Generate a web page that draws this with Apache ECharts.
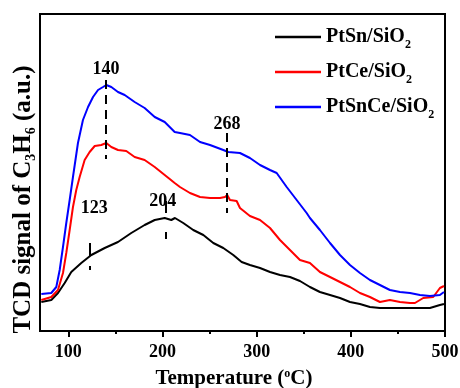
<!DOCTYPE html>
<html>
<head>
<meta charset="utf-8">
<script src="https://cdn.jsdelivr.net/npm/echarts@6/dist/echarts.min.js"></script>
<style>
html,body{margin:0;padding:0;background:#fff}
#chart{width:460px;height:388px}
</style>
</head>
<body>
<div id="chart"></div>
<script>
// TPD curves (temperature in degC, signal in arbitrary units)
const seriesNames = ['PtSn/SiO2', 'PtCe/SiO2', 'PtSnCe/SiO2'];
const colors = ['#000000', '#ff0000', '#0000ff'];

const ptsnT = [71.4, 82, 89.1, 96.2, 103.2, 113.8, 124.5, 138.7, 152.8, 166.9, 181.1, 191.8, 202.4, 209.4, 213.3, 222.1, 232.7, 243.4, 254, 264.6, 275.2, 284.1, 292.9, 303.6, 314.2, 324.8, 335.4, 346, 356.6, 367.2, 377.9, 388.5, 399.1, 409.7, 420.3, 430.9, 441.5, 452.2, 462.8, 473.4, 484, 494.6, 498.9];
const ptsnY = [29, 31, 38, 48, 59, 68, 76, 83, 89, 98, 106, 111, 113, 111, 113, 108, 101, 96, 88, 83, 76, 69, 66, 63, 59, 56, 54, 50, 44, 39, 36, 33, 29, 27, 24, 23, 23, 23, 23, 23, 23, 26, 27];

const ptceT = [71.4, 82, 89.1, 94.4, 97.9, 101.5, 105, 108.5, 112.1, 117.4, 122.7, 128.1, 135.1, 140.4, 145.7, 152.8, 161.6, 170.5, 181.1, 191.8, 202.4, 213, 218.6, 229.2, 239.9, 250.5, 261.1, 266.4, 268.8, 271.7, 278.8, 282.3, 292.9, 303.6, 314.2, 324.8, 335.4, 346, 356.6, 367.2, 377.9, 388.5, 399.1, 409.7, 420.3, 430.9, 441.5, 452.2, 462.8, 468.1, 476.9, 487.5, 494.6, 498.9];
const ptceY = [31, 34, 41, 58, 78, 101, 124, 141, 154, 171, 179, 185, 186, 188, 184, 181, 180, 174, 171, 164, 156, 148, 144, 138, 134, 133, 133, 134, 136, 131, 130, 123, 115, 111, 103, 91, 81, 71, 68, 59, 54, 49, 44, 38, 34, 29, 31, 29, 28, 28, 33, 34, 43, 45];

const ptsnceT = [71.4, 82, 87.3, 90.9, 94.4, 97.9, 101.5, 105, 110.3, 115.6, 121, 126.3, 131.6, 136.9, 140.4, 145.7, 152.8, 159.9, 170.5, 181.1, 191.8, 202.4, 213, 218.6, 229.2, 239.9, 250.5, 264.6, 269.9, 282.3, 292.9, 303.6, 314.2, 321.3, 331.9, 342.5, 353.1, 356.6, 367.2, 377.9, 388.5, 399.1, 409.7, 420.3, 430.9, 441.5, 452.2, 462.8, 473.4, 484, 494.6, 498.9];
const ptsnceY = [37, 38, 44, 61, 84, 108, 131, 154, 188, 211, 224, 234, 241, 244, 246, 244, 239, 236, 229, 223, 214, 209, 199, 198, 196, 189, 186, 181, 179, 178, 173, 166, 161, 158, 144, 131, 118, 113, 101, 88, 76, 66, 58, 51, 46, 41, 39, 38, 36, 35, 36, 39];

// peak markers: temperature, dashed line extent and label anchor
const peakTemps = [123, 140, 204, 268];
const peakLineTop = [88, 251, 130, 198];
const peakLineBottom = [61, 172, 92, 118];
const peakLabelT = [127.6, 140, 200.3, 268.5];
const peakLabelY = [123, 262, 130, 207];
const peakDash = [[13, 10], [9, 6], [12, 19], [9, 6]];

const xTicks = [100, 200, 300, 400, 500];
const xMinorTicks = [150, 250, 350, 450];

const font = 'Liberation Serif';
const zip = (xs, ys) => xs.map((x, i) => [x, ys[i]]);

const chart = echarts.init(document.getElementById('chart'));

const markLineData = peakTemps.map((t, i) => [
  {coord: [t, peakLineTop[i]], lineStyle: {type: peakDash[i]}},
  {coord: [t, peakLineBottom[i]]}
]);
const markPointData = peakTemps.map((t, i) => ({
  name: String(t), coord: [peakLabelT[i], peakLabelY[i]]
}));

chart.setOption({
  animation: false,
  grid: {
    left: 40, right: 15, top: 14, bottom: 57, outerBoundsMode: 'none',
    show: true, borderColor: '#000', borderWidth: 2
  },
  legend: {
    orient: 'vertical',
    left: 275,
    top: 23,
    padding: 0,
    icon: 'rect',
    itemWidth: 46,
    itemHeight: 2.5,
    itemGap: 7,
    data: seriesNames,
    formatter: name => name.replace(/(\d)$/, '{sub|$1}'),
    textStyle: {
      fontFamily: font, fontWeight: 'bold', fontSize: 20, color: '#000', lineHeight: 28,
      rich: {sub: {fontFamily: font, fontWeight: 'bold', fontSize: 12, lineHeight: 12, verticalAlign: 'bottom', color: '#000'}}
    }
  },
  xAxis: [{
    type: 'value',
    min: 70,
    max: 500,
    name: 'Temperature ({sup|o}C)',
    nameLocation: 'middle',
    nameGap: 37,
    nameTextStyle: {
      fontFamily: font, fontWeight: 'bold', fontSize: 21, color: '#000', padding: [0, 17, 0, 0],
      rich: {sup: {fontFamily: font, fontSize: 12, verticalAlign: 'top', color: '#000'}}
    },
    axisLine: {lineStyle: {color: '#000', width: 2}},
    axisTick: {show: true, length: 6, lineStyle: {color: '#000', width: 2}, customValues: xTicks},
    axisLabel: {fontFamily: font, fontWeight: 'bold', fontSize: 18, color: '#000', margin: 12, customValues: xTicks},
    splitLine: {show: false}
  }, {
    type: 'value',
    position: 'bottom',
    min: 70,
    max: 500,
    axisLine: {show: false},
    axisTick: {show: true, length: 3, lineStyle: {color: '#000', width: 2}, customValues: xMinorTicks},
    axisLabel: {show: false},
    splitLine: {show: false}
  }],
  yAxis: {
    type: 'value',
    min: 0,
    max: 317,
    name: 'TCD signal of C{sub|3}H{sub|6} (a.u.)',
    nameLocation: 'middle',
    nameRotate: 90,
    nameGap: 2,
    nameTextStyle: {
      fontFamily: font, fontWeight: 'bold', fontSize: 25, color: '#000', lineHeight: 28, padding: [0, 54, 0, 0],
      rich: {sub: {fontFamily: font, fontWeight: 'bold', fontSize: 14, lineHeight: 14, verticalAlign: 'bottom', color: '#000'}}
    },
    axisLine: {lineStyle: {color: '#000', width: 2}},
    axisTick: {show: false},
    axisLabel: {show: false},
    splitLine: {show: false}
  },
  series: [
    {
      name: seriesNames[0], type: 'line', data: zip(ptsnT, ptsnY), showSymbol: false, symbol: 'none',
      lineStyle: {color: colors[0], width: 2}, itemStyle: {color: colors[0]},
      markLine: {
        silent: true, symbol: 'none', label: {show: false},
        lineStyle: {color: '#000', width: 2},
        data: markLineData
      },
      markPoint: {
        silent: true, symbol: 'circle', symbolSize: 0,
        label: {show: true, position: 'inside', formatter: p => p.name, fontFamily: font, fontWeight: 'bold', fontSize: 18, color: '#000'},
        data: markPointData
      }
    },
    {
      name: seriesNames[1], type: 'line', data: zip(ptceT, ptceY), showSymbol: false, symbol: 'none',
      lineStyle: {color: colors[1], width: 2}, itemStyle: {color: colors[1]}
    },
    {
      name: seriesNames[2], type: 'line', data: zip(ptsnceT, ptsnceY), showSymbol: false, symbol: 'none',
      lineStyle: {color: colors[2], width: 2}, itemStyle: {color: colors[2]}
    }
  ]
});
</script>
</body>
</html>
